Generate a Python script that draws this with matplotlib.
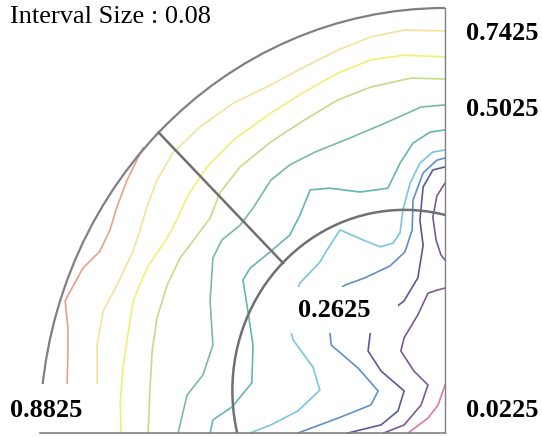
import numpy as np
import matplotlib.pyplot as plt
from matplotlib.patches import Arc, Circle, Rectangle

plt.rcParams['font.family'] = ['Liberation Serif', 'DejaVu Serif']

# contour levels (interval 0.08) and their colours
levels = [0.0225, 0.1025, 0.1825, 0.2625, 0.3425, 0.4225, 0.5025, 0.5825, 0.6625, 0.7425, 0.8225]
level_colors = ['#d77aa6', '#7a5a94', '#575a98', '#5f8fc8', '#7ac4e0', '#66b4b4',
                '#78bc98', '#c4dc88', '#f4ee74', '#f4e29c', '#e6a284']

# contour lines, in units of the outer radius (x <= 0, y >= 0)
c0_x = [0, -0.017, -0.042, -0.091]
c0_y = [0.113, 0.066, 0.035, 0]

c1a_x = [0, -0.020, -0.030, -0.022, -0.010, 0]
c1a_y = [0.588, 0.558, 0.508, 0.454, 0.419, 0.407]
c1b_x = [0, -0.020, -0.042, -0.067, -0.101, -0.109, -0.077, -0.042, -0.059, -0.101, -0.151]
c1b_y = [0.341, 0.336, 0.329, 0.278, 0.224, 0.193, 0.146, 0.113, 0.066, 0.019, 0]

c2_x = [0, -0.030, -0.054, -0.062, -0.054, -0.067, -0.101, -0.133, -0.183, -0.190, -0.158,
        -0.101, -0.116, -0.158, -0.240]
c2_y = [0.626, 0.619, 0.579, 0.501, 0.442, 0.365, 0.311, 0.287, 0.247, 0.193, 0.146,
        0.099, 0.052, 0.019, 0]

c3_x = [0, -0.020, -0.054, -0.079, -0.081, -0.099, -0.136, -0.198, -0.247, -0.279, -0.289,
        -0.281, -0.215, -0.165, -0.183, -0.264, -0.363]
c3_y = [0.647, 0.642, 0.612, 0.548, 0.478, 0.426, 0.393, 0.365, 0.348, 0.325, 0.287,
        0.207, 0.153, 0.099, 0.066, 0.035, 0]

c4_x = [0, -0.030, -0.062, -0.086, -0.104, -0.111, -0.128, -0.160, -0.202, -0.259, -0.291,
        -0.309, -0.358, -0.390, -0.375, -0.326, -0.309, -0.363, -0.430, -0.481]
c4_y = [0.666, 0.661, 0.635, 0.588, 0.525, 0.471, 0.447, 0.438, 0.454, 0.478, 0.431,
        0.402, 0.353, 0.273, 0.219, 0.155, 0.101, 0.052, 0.019, 0]

c5_x = [0, -0.037, -0.079, -0.111, -0.141, -0.210, -0.284, -0.333, -0.358, -0.383, -0.432,
        -0.481, -0.499, -0.489, -0.474, -0.477, -0.526, -0.573, -0.580]
c5_y = [0.713, 0.708, 0.682, 0.635, 0.576, 0.567, 0.576, 0.572, 0.513, 0.466, 0.426,
        0.388, 0.360, 0.301, 0.207, 0.118, 0.061, 0.031, 0]

c6_x = [0, -0.059, -0.141, -0.235, -0.321, -0.383, -0.430, -0.474, -0.506, -0.551, -0.573,
        -0.580, -0.573, -0.598, -0.637, -0.659]
c6_y = [0.772, 0.767, 0.732, 0.694, 0.661, 0.631, 0.595, 0.529, 0.489, 0.454, 0.412,
        0.311, 0.207, 0.136, 0.089, 0]

c7_x = [0, -0.084, -0.183, -0.264, -0.348, -0.430, -0.506, -0.556, -0.580, -0.622, -0.654,
        -0.686, -0.711, -0.723, -0.728, -0.733]
c7_y = [0.833, 0.835, 0.814, 0.784, 0.736, 0.685, 0.626, 0.565, 0.506, 0.452, 0.412,
        0.348, 0.271, 0.193, 0.113, 0]

c8_x = [0, -0.101, -0.183, -0.264, -0.348, -0.430, -0.523, -0.588, -0.637, -0.662, -0.686,
        -0.736, -0.770, -0.783, -0.795, -0.802, -0.800]
c8_y = [0.885, 0.889, 0.878, 0.847, 0.802, 0.753, 0.689, 0.626, 0.555, 0.501, 0.459,
        0.388, 0.311, 0.231, 0.153, 0.075, 0]

c9_x = [0, -0.101, -0.183, -0.264, -0.348, -0.430, -0.523, -0.605, -0.672, -0.711, -0.736,
        -0.753, -0.770, -0.810, -0.844, -0.859, -0.859, -0.859]
c9_y = [0.946, 0.948, 0.932, 0.901, 0.861, 0.819, 0.776, 0.720, 0.659, 0.595, 0.532,
        0.478, 0.428, 0.348, 0.287, 0.207, 0.113, 0]

c10_x = [-0.746, -0.785, -0.810, -0.827, -0.852, -0.894, -0.938, -0.931, -0.931, -0.933, -0.931]
c10_y = [0.671, 0.595, 0.532, 0.478, 0.428, 0.388, 0.311, 0.247, 0.193, 0.113, 0]

lines = [(0, c0_x, c0_y), (1, c1a_x, c1a_y), (1, c1b_x, c1b_y), (2, c2_x, c2_y),
         (3, c3_x, c3_y), (4, c4_x, c4_y), (5, c5_x, c5_y), (6, c6_x, c6_y),
         (7, c7_x, c7_y), (8, c8_x, c8_y), (9, c9_x, c9_y), (10, c10_x, c10_y)]

fig = plt.figure(figsize=(5.42, 4.37), dpi=100)
ax = fig.add_axes([40 / 542, 4 / 437, 405 / 542, 425 / 437])
ax.set_xlim(-1, 0)
ax.set_ylim(0, 1)
ax.axis('off')

for k, xs, ys in lines:
    ax.plot(xs, ys, color=level_colors[k], lw=1.2, clip_on=False, zorder=2,
            solid_joinstyle='round')

# outline: outer quarter circle, hub circle, radial cut
frame = '#808080'
ax.add_patch(Arc((0, 0), 2, 2, theta1=90, theta2=180, color=frame, lw=1.6, zorder=3, clip_on=False))
ax.add_patch(Circle((-0.10, 0.10), 0.425, fill=False, color='#707070', lw=1.8, zorder=3))
ax.plot([-0.7071, -0.40], [0.7071, 0.40], color='#707070', lw=1.8, zorder=3)
ax.plot([0, 0], [0, 1], color=frame, lw=1.0, clip_on=False, zorder=3)

# white label backgrounds that cut the lines
ax.add_patch(Rectangle((-1.08, 0.0), 0.23, 0.115, fc='white', ec='none', zorder=4, clip_on=False))
ax.add_patch(Rectangle((-0.41, 0.235), 0.295, 0.108, fc='white', ec='none', zorder=4))

# labels
lab = dict(fontsize=19, fontweight='bold', ha='center', va='center', zorder=6)
ax.text(0.141, 0.941, '0.7425', clip_on=False, **lab)
ax.text(0.141, 0.760, '0.5025', clip_on=False, **lab)
ax.text(0.141, 0.054, '0.0225', clip_on=False, **lab)
ax.text(-0.985, 0.054, '0.8825', clip_on=False, **lab)
ax.text(-0.274, 0.289, '0.2625', **lab)
ax.plot([-1, 0], [0, 0], color=frame, lw=1.2, clip_on=False, zorder=7)

fig.text(10 / 542, 1 - 23 / 437, 'Interval Size : 0.08', fontsize=19, va='baseline')

fig.savefig('out.png', dpi=100)
